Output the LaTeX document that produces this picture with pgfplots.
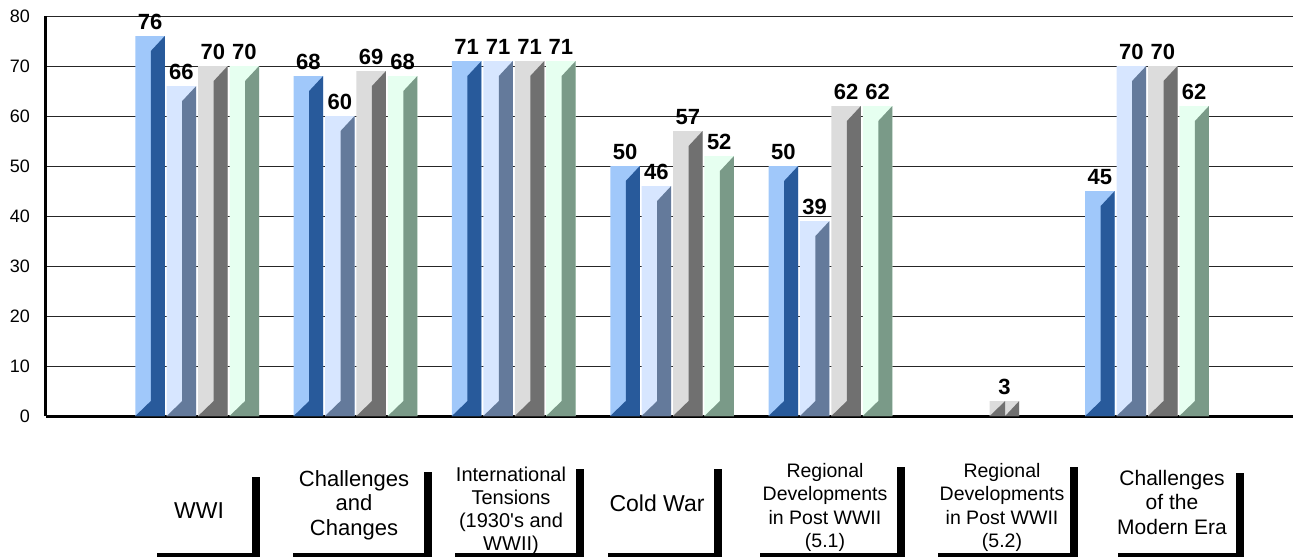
\documentclass[border=0pt]{standalone}
\usepackage{fontspec}
\setmainfont{Liberation Sans}
\usepackage{pgfplots}
\usepackage{pgfplotstable}
\pgfplotsset{compat=1.18}

\definecolor{s1l}{HTML}{A0C8FA}
\definecolor{s1d}{HTML}{285A9B}
\definecolor{s2l}{HTML}{D7E6FF}
\definecolor{s2d}{HTML}{647A9B}
\definecolor{s3l}{HTML}{DCDCDC}
\definecolor{s3d}{HTML}{707070}
\definecolor{s4l}{HTML}{E6FFF0}
\definecolor{s4d}{HTML}{7A9A88}

\edef\nanstr{nan}

% scores per topic, four series
\pgfplotstableread{
x  s1   s2   s3  s4
0  76   66   70  70
1  68   60   69  68
2  71   71   71  71
3  50   46   57  52
4  50   39   62  62
5  nan  nan  3   nan
6  45   70   70  62
}\scores

\begin{document}
\begin{tikzpicture}
\begin{axis}[
  name=ax,
  scale only axis,
  width=1247pt, height=400pt,
  xmin=-0.955, xmax=6.922,
  ymin=0, ymax=80,
  ytick={0,10,...,80},
  xtick=\empty,
  axis x line*=bottom,
  axis y line*=left,
  axis line style={line width=3pt,-},
  major tick length=0pt,
  ymajorgrids=true,
  major grid style={black!85,line width=1pt},
  /pgf/number format/assume math mode=true,
  yticklabel style={font=\fontsize{18}{20}\selectfont, anchor=east, inner sep=0pt, xshift=-16pt},
  clip=false,
  every node near coord/.append style={font=\bfseries\fontsize{22}{24}\selectfont, anchor=base, yshift=7pt},
  bar width=0.1864,
]
\addplot[ybar, fill=s1l, draw=none, bar shift=0, nodes near coords] table[x expr=\thisrow{x}-0.2976,y=s1]{\scores};
\addplot[ybar, fill=s2l, draw=none, bar shift=0, nodes near coords] table[x expr=\thisrow{x}-0.0992,y=s2]{\scores};
\addplot[ybar, fill=s3l, draw=none, bar shift=0, nodes near coords] table[x expr=\thisrow{x}+0.0992,y=s3]{\scores};
\addplot[ybar, fill=s4l, draw=none, bar shift=0, nodes near coords] table[x expr=\thisrow{x}+0.2976,y=s4]{\scores};

% darker bevelled side of each bar
\foreach \s/\off/\dk in {s1/-0.2976/s1d, s2/-0.0992/s2d, s3/0.0992/s3d, s4/0.2976/s4d}{
  \foreach \i in {0,...,6}{
    \pgfplotstablegetelem{\i}{\s}\of\scores
    \edef\v{\pgfplotsretval}
    \ifx\v\nanstr\else
      \pgfmathsetmacro\xl{\i+\off-0.0932}
      \pgfmathsetmacro\xm{\xl+0.098}
      \pgfmathsetmacro\xr{\i+\off+0.0932}
      \pgfmathsetmacro\vt{\v-3}
      \edef\cmd{\noexpand\addplot[fill=\dk, draw=none] coordinates {(\xl,0) (\xr,0) (\xr,\v) (\xm,\vt) (\xm,3)} -- cycle;}
      \cmd
    \fi
  }
}
\end{axis}

% category labels in bracket boxes
\foreach \xa/\xb/\yt in {111/210/-61, 247/382/-56, 409/534/-53, 562/672/-53, 714/855/-51, 892/1028/-51, 1072/1194/-57}{
  \draw[line width=3.5pt] ([shift={(\xa pt,-139pt)}]ax.south west) -- ([shift={(\xb pt+3.75pt,-139pt)}]ax.south west);
  \draw[line width=7.5pt] ([shift={(\xb pt,-141pt)}]ax.south west) -- ([shift={(\xb pt,\yt pt)}]ax.south west);
}
\begin{scope}[every node/.style={anchor=north, align=center, inner sep=0pt}]
\node[font=\fontsize{23}{25}\selectfont] at ([shift={(153pt,-86pt)}]ax.south west) {WWI};
\node[font=\fontsize{22}{24.5}\selectfont] at ([shift={(308pt,-54pt)}]ax.south west) {Challenges\\and\\Changes};
\node[font=\fontsize{20}{23}\selectfont] at ([shift={(465pt,-51pt)}]ax.south west) {International\\Tensions\\(1930\textquotesingle s and\\WWII)};
\node[font=\fontsize{23}{25}\selectfont] at ([shift={(611pt,-79pt)}]ax.south west) {Cold War};
\node[font=\fontsize{19.5}{23.5}\selectfont] at ([shift={(779pt,-47pt)}]ax.south west) {Regional\\Developments\\in Post WWII\\(5.1)};
\node[font=\fontsize{19.5}{23.5}\selectfont] at ([shift={(956pt,-47pt)}]ax.south west) {Regional\\Developments\\in Post WWII\\(5.2)};
\node[font=\fontsize{21}{24.5}\selectfont] at ([shift={(1126pt,-54pt)}]ax.south west) {Challenges\\of the\\Modern Era};
\end{scope}

\pgfresetboundingbox
\path ([shift={(-46pt,-142pt)}]ax.south west) rectangle ([shift={(1247pt,416pt)}]ax.south west);
\end{tikzpicture}
\end{document}
